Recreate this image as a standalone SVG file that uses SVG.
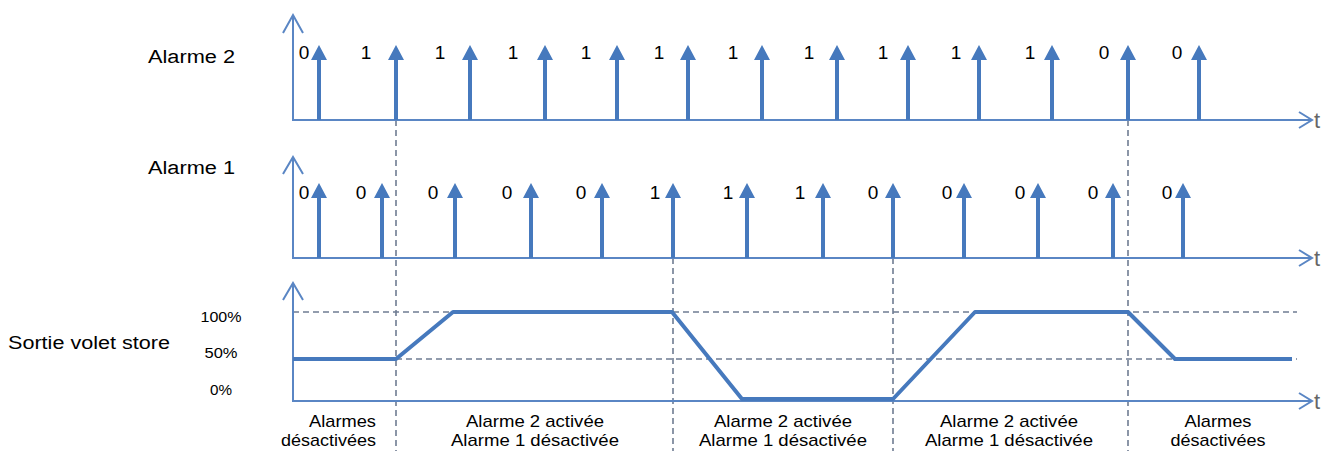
<svg xmlns="http://www.w3.org/2000/svg" xmlns:xlink="http://www.w3.org/1999/xlink" width="1326" height="451" viewBox="0 0 1326 451">
<style>
  .axis{stroke:#5a86c4;stroke-width:2;fill:none}
  .chev{stroke:#5a86c4;stroke-width:2;fill:none;stroke-linejoin:miter}
  .stem{stroke:#4679bd;stroke-width:4}
  .head{fill:#4679bd}
  .guide{stroke:#6f7c92;stroke-width:1.6;stroke-dasharray:6 4;fill:none}
  .out{stroke:#4679bd;stroke-width:4;fill:none;stroke-linejoin:round}
  .lbl{font-family:"Liberation Sans",Arial,sans-serif;font-size:19px;fill:#000}
  .title{font-family:"Liberation Sans",Arial,sans-serif;font-size:18px;fill:#000}
  .pct{font-family:"Liberation Sans",Arial,sans-serif;font-size:14px;fill:#000;text-anchor:middle}
  .t{font-family:"Liberation Sans",Arial,sans-serif;font-size:22px;fill:#666}
  .zone{font-family:"Liberation Sans",Arial,sans-serif;font-size:17px;fill:#000;text-anchor:middle}
</style>
<defs>
  <g id="pulse">
    <line class="stem" x1="0" y1="0" x2="0" y2="-62"/>
    <polygon class="head" points="0,-75 -8,-60 8,-60"/>
  </g>
</defs>
<rect width="1326" height="451" fill="#fff"/>

<g id="connectors">
  <line class="guide" x1="396" y1="120" x2="396" y2="451"/>
  <line class="guide" x1="673" y1="258" x2="673" y2="451"/>
  <line class="guide" x1="893" y1="258" x2="893" y2="451"/>
  <line class="guide" x1="1128" y1="120" x2="1128" y2="451"/>
  <line class="guide" x1="293" y1="312" x2="1297" y2="312"/>
  <line class="guide" x1="396" y1="359" x2="1297" y2="359"/>
</g>

<g id="alarme2">
  <text class="title" x="148" y="63" textLength="87" lengthAdjust="spacingAndGlyphs">Alarme 2</text>
  <path class="axis" d="M293,15 V120 H1311"/>
  <path class="chev" d="M283,33 L293,15 L303,33"/>
  <path class="chev" d="M1299,112 L1312,120 L1299,128"/>
  <text class="t" x="1314" y="128">t</text>
  <use xlink:href="#pulse" x="319" y="120"/>
  <use xlink:href="#pulse" x="396" y="120"/>
  <use xlink:href="#pulse" x="470" y="120"/>
  <use xlink:href="#pulse" x="545" y="120"/>
  <use xlink:href="#pulse" x="617" y="120"/>
  <use xlink:href="#pulse" x="688" y="120"/>
  <use xlink:href="#pulse" x="762" y="120"/>
  <use xlink:href="#pulse" x="837" y="120"/>
  <use xlink:href="#pulse" x="908" y="120"/>
  <use xlink:href="#pulse" x="979" y="120"/>
  <use xlink:href="#pulse" x="1052" y="120"/>
  <use xlink:href="#pulse" x="1128" y="120"/>
  <use xlink:href="#pulse" x="1199" y="120"/>
  <g class="lbl" text-anchor="middle">
    <text x="304" y="59">0</text>
    <text x="366" y="59">1</text>
    <text x="440" y="59">1</text>
    <text x="513" y="59">1</text>
    <text x="586" y="59">1</text>
    <text x="659" y="59">1</text>
    <text x="733" y="59">1</text>
    <text x="809" y="59">1</text>
    <text x="883" y="59">1</text>
    <text x="956" y="59">1</text>
    <text x="1030" y="59">1</text>
    <text x="1104" y="59">0</text>
    <text x="1177" y="59">0</text>
  </g>
</g>

<g id="alarme1">
  <text class="title" x="148" y="174" textLength="87" lengthAdjust="spacingAndGlyphs">Alarme 1</text>
  <path class="axis" d="M293,157 V258 H1311"/>
  <path class="chev" d="M283,174 L293,157 L303,174"/>
  <path class="chev" d="M1299,250 L1312,258 L1299,266"/>
  <text class="t" x="1314" y="266">t</text>
  <use xlink:href="#pulse" x="319" y="258"/>
  <use xlink:href="#pulse" x="382" y="258"/>
  <use xlink:href="#pulse" x="455" y="258"/>
  <use xlink:href="#pulse" x="531" y="258"/>
  <use xlink:href="#pulse" x="602" y="258"/>
  <use xlink:href="#pulse" x="673" y="258"/>
  <use xlink:href="#pulse" x="747" y="258"/>
  <use xlink:href="#pulse" x="823" y="258"/>
  <use xlink:href="#pulse" x="893" y="258"/>
  <use xlink:href="#pulse" x="964" y="258"/>
  <use xlink:href="#pulse" x="1038" y="258"/>
  <use xlink:href="#pulse" x="1113" y="258"/>
  <use xlink:href="#pulse" x="1183" y="258"/>
  <g class="lbl" text-anchor="middle">
    <text x="304" y="199">0</text>
    <text x="361" y="199">0</text>
    <text x="433" y="199">0</text>
    <text x="507" y="199">0</text>
    <text x="581" y="199">0</text>
    <text x="655" y="199">1</text>
    <text x="728" y="199">1</text>
    <text x="800" y="199">1</text>
    <text x="873" y="199">0</text>
    <text x="947" y="199">0</text>
    <text x="1020" y="199">0</text>
    <text x="1093" y="199">0</text>
    <text x="1167" y="199">0</text>
  </g>
</g>

<g id="sortie">
  <text class="title" x="8" y="349" textLength="162" lengthAdjust="spacingAndGlyphs">Sortie volet store</text>
  <text class="pct" x="221" y="322" textLength="41" lengthAdjust="spacingAndGlyphs">100%</text>
  <text class="pct" x="221" y="358" textLength="33" lengthAdjust="spacingAndGlyphs">50%</text>
  <text class="pct" x="221" y="395" textLength="22" lengthAdjust="spacingAndGlyphs">0%</text>
  <path class="axis" d="M293,283 V401 H1311"/>
  <path class="chev" d="M283,300 L293,283 L303,300"/>
  <path class="chev" d="M1299,393 L1312,401 L1299,409"/>
  <text class="t" x="1314" y="409">t</text>
  <path class="out" d="M293,359 H396 L453,312 H672 L742,399 H893 L975,312 H1128 L1175,359 H1292"/>
</g>

<g id="zones">
  <text class="zone" x="376" y="427" style="text-anchor:end" textLength="67" lengthAdjust="spacingAndGlyphs">Alarmes</text>
  <text class="zone" x="376" y="446" style="text-anchor:end" textLength="95" lengthAdjust="spacingAndGlyphs">désactivées</text>
  <text class="zone" x="535" y="427" textLength="138" lengthAdjust="spacingAndGlyphs">Alarme 2 activée</text>
  <text class="zone" x="535" y="446" textLength="168" lengthAdjust="spacingAndGlyphs">Alarme 1 désactivée</text>
  <text class="zone" x="783" y="427" textLength="138" lengthAdjust="spacingAndGlyphs">Alarme 2 activée</text>
  <text class="zone" x="783" y="446" textLength="168" lengthAdjust="spacingAndGlyphs">Alarme 1 désactivée</text>
  <text class="zone" x="1009" y="427" textLength="138" lengthAdjust="spacingAndGlyphs">Alarme 2 activée</text>
  <text class="zone" x="1009" y="446" textLength="168" lengthAdjust="spacingAndGlyphs">Alarme 1 désactivée</text>
  <text class="zone" x="1218" y="427" textLength="67" lengthAdjust="spacingAndGlyphs">Alarmes</text>
  <text class="zone" x="1218" y="446" textLength="95" lengthAdjust="spacingAndGlyphs">désactivées</text>
</g>
</svg>
